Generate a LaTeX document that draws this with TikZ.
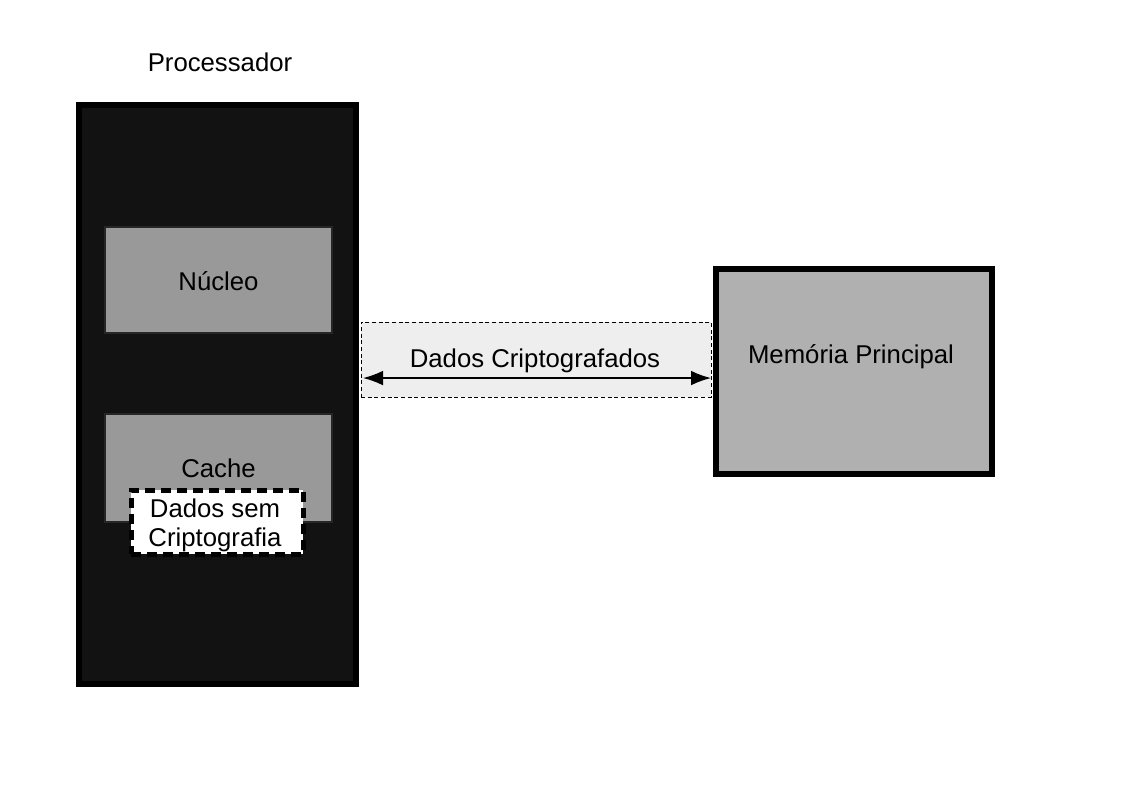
\documentclass[tikz,border=0pt]{standalone}
\usepackage{fontspec}
\setmainfont{Liberation Sans}
\usetikzlibrary{arrows.meta}
\definecolor{procfill}{HTML}{121212}
\definecolor{corefill}{HTML}{999999}
\definecolor{memfill}{HTML}{B0B0B0}
\definecolor{bandfill}{HTML}{EEEEEE}
\begin{document}
\begin{tikzpicture}[x=0.75pt,y=-0.75pt,
  every node/.style={font=\fontsize{19.3}{22}\selectfont, inner sep=0pt, outer sep=0pt},
  procbox/.style={draw=black, line width=4.5pt, fill=procfill, rectangle},
  unitbox/.style={draw=black!85, line width=0.9pt, fill=corefill, rectangle},
  membox/.style={draw=black, line width=4.5pt, fill=memfill, rectangle},
  bandbox/.style={draw=black, line width=0.75pt, dash pattern=on 3pt off 2pt, fill=bandfill, rectangle},
  clearbox/.style={draw=black, line width=3.75pt, dash pattern=on 7.5pt off 4.5pt, fill=white, rectangle, align=center},
  link/.style={line width=1.1pt, {Latex[length=15pt,width=11pt]}-{Latex[length=15pt,width=11pt]}}
]
\useasboundingbox (0,0) rectangle (1123,794);
\node (proctitle) at (220,62) {Processador};
\node[procbox, minimum width=207.75pt, minimum height=434.25pt] (proc) at (217.5,394.5) {};
\node[unitbox, minimum width=170.25pt, minimum height=79.5pt] (core) at (218.5,280) {};
\node (coretext) at (218.5,281) {Núcleo};
\node[unitbox, minimum width=170.25pt, minimum height=81pt] (cache) at (218.5,468) {};
\node (cachetext) at (218.5,468) {Cache};
\node[clearbox, minimum width=129pt, minimum height=48pt] (plain) at (217,522) {};
\node[align=center] (plaintext) at (215,525) {Dados sem\\ Criptografia};
\node[bandbox, minimum width=262.5pt, minimum height=56.25pt] (band) at (536,359.5) {};
\node (bandtext) at (535,361) {Dados Criptografados};
\node[membox, minimum width=207pt, minimum height=153.75pt] (mem) at (854,371.5) {};
\node (memtext) at (851,357) {Memória Principal};
\draw[link] ([xshift=1.5pt,yshift=-13.9pt]band.west) -- ([yshift=-13.9pt]band.east);
\end{tikzpicture}
\end{document}
